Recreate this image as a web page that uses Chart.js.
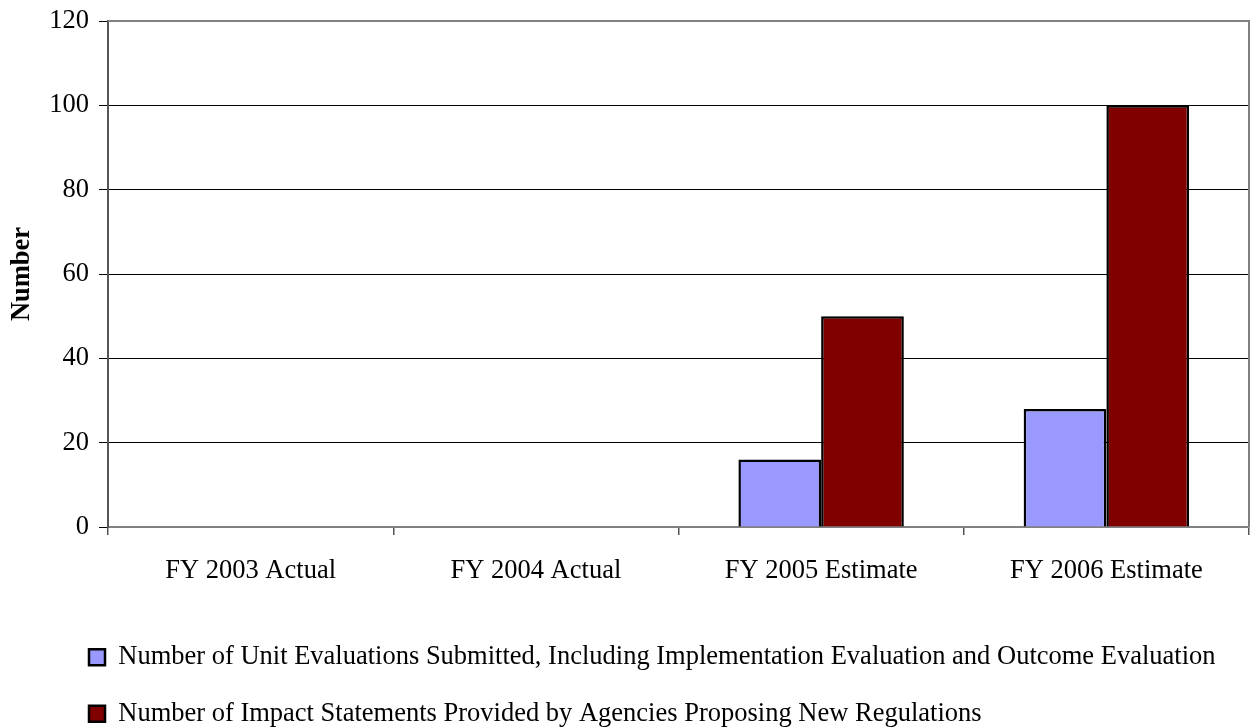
<!DOCTYPE html>
<html>
<head>
<meta charset="utf-8">
<script src="https://cdn.jsdelivr.net/npm/chart.js@4"></script>
<style>
  body { margin: 0; background: #fff; }
  #wrap { width: 1251px; height: 728px; }
</style>
</head>
<body>
<div id="wrap"><canvas id="myChart" width="1251" height="728"></canvas></div>
<script>
const categories = ["FY 2003 Actual", "FY 2004 Actual", "FY 2005 Estimate", "FY 2006 Estimate"];
const unitEvaluations = [null, null, 16, 28];
const impactStatements = [null, null, 50, 100];
const seriesNames = [
  "Number of Unit Evaluations Submitted, Including Implementation Evaluation and Outcome Evaluation",
  "Number of Impact Statements Provided by Agencies Proposing New Regulations",
];

const serif = "'Liberation Serif', 'Times New Roman', serif";

// gray frame round the plot area + legend moved to the left like the original
const framePlugin = {
  id: "frame",
  afterLayout(chart) {
    chart.legend.left = 59;
  },
  beforeDatasetsDraw(chart) {
    const { ctx, chartArea: a } = chart;
    ctx.save();
    ctx.strokeStyle = "#808080";
    ctx.lineWidth = 2;
    ctx.beginPath();
    ctx.moveTo(a.left, a.top);
    ctx.lineTo(a.right, a.top);
    ctx.lineTo(a.right, a.bottom);
    ctx.stroke();
    ctx.restore();
  },
};

const ctx = document.getElementById("myChart").getContext("2d");
const myChart = new Chart(ctx, {
  type: "bar",
  data: {
    labels: categories,
    datasets: [
      {
        label: seriesNames[0],
        data: unitEvaluations,
        backgroundColor: "#9999FF",
        borderColor: "#000000",
        borderWidth: 2.5,
      },
      {
        label: seriesNames[1],
        data: impactStatements,
        backgroundColor: "#800000",
        borderColor: "#000000",
        borderWidth: 2.5,
      },
    ],
  },
  options: {
    responsive: false,
    animation: false,
    layout: { padding: { top: 21, right: 2, left: 0, bottom: 0 } },
    datasets: {
      bar: { categoryPercentage: 0.58, barPercentage: 1 },
    },
    plugins: {
      tooltip: { enabled: false },
      legend: {
        position: "bottom",
        align: "start",
        maxHeight: 114,
        labels: {
          color: "#000",
          boxWidth: 16,
          boxHeight: 16,
          padding: 30,
          font: { family: serif, size: 26.5 },
        },
      },
    },
    scales: {
      x: {
        afterFit: (scale) => {
          scale.height = 87;
        },
        grid: {
          offset: true,
          drawOnChartArea: false,
          tickLength: 8,
          color: "#555",
          lineWidth: 1.5,
        },
        border: { color: "#808080", width: 2 },
        ticks: {
          color: "#000",
          padding: 20,
          maxRotation: 0,
          font: { family: serif, size: 26.5 },
        },
      },
      y: {
        min: 0,
        max: 120,
        afterFit: (scale) => {
          scale.width = 108;
          scale.paddingTop = 0;
          scale.paddingBottom = 0;
        },
        grid: {
          color: "#000",
          lineWidth: 1,
          tickLength: 9,
        },
        border: { color: "#555", width: 2 },
        ticks: {
          stepSize: 20,
          color: "#000",
          padding: 10,
          font: { family: serif, size: 26.5 },
        },
        title: {
          display: true,
          text: "Number",
          color: "#000",
          padding: { top: 6, bottom: 0 },
          font: { family: serif, size: 26.5, weight: "bold" },
        },
      },
    },
  },
  plugins: [framePlugin],
});
</script>
</body>
</html>
